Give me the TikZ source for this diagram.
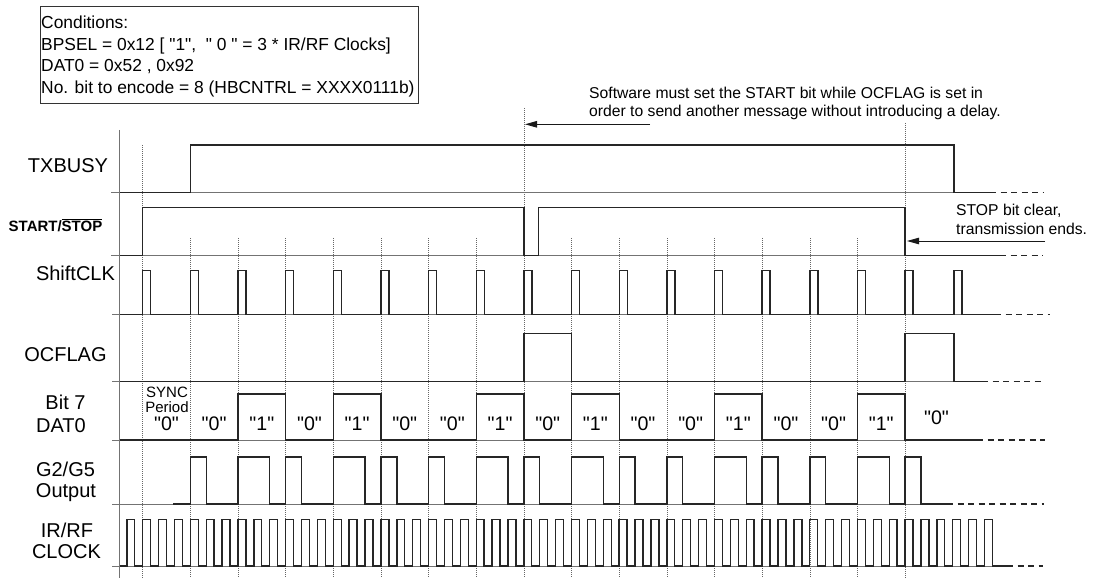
\documentclass[tikz,border=0pt]{standalone}
\usepackage{fontspec}
\setmainfont{Liberation Sans}
\newfontfamily\qfont{Liberation Sans}
\usetikzlibrary{arrows.meta}
\begin{document}
\begin{tikzpicture}[x=1pt,y=-1pt,
  sig/.style={line width=1.4pt,line join=miter,black!85},
  basel/.style={line width=0.7pt,black!55},
  gridl/.style={line width=0.6pt,black!60,dash pattern=on 1pt off 1pt},
  dsh/.style={line width=1.2pt,black!85,dash pattern=on 6pt off 4.5pt},
  arr/.style={line width=0.9pt,black!90,-{Triangle[length=12pt,width=6.5pt]}},
  lab/.style={font=\fontsize{20}{22}\selectfont,inner sep=0pt,anchor=base},
  cond/.style={font=\qfont\fontsize{17.4}{20}\selectfont,inner sep=0pt,anchor=base west},
  note/.style={font=\fontsize{15.7}{18}\selectfont,inner sep=0pt,anchor=base west},
  bitlab/.style={font=\qfont\fontsize{19.6}{21}\selectfont,inner sep=0pt},
  small/.style={font=\fontsize{15}{16}\selectfont,inner sep=0pt,anchor=base}
]
\useasboundingbox (0,0) rectangle (1095,580);

% conditions box
\draw[line width=0.8pt,black!80] (40,6.5) rectangle (418,103);
\node[cond] (c1) at (41,28.5) {Conditions:};
\node[cond] (c2) at (41,50.2) {BPSEL = 0x12 [ "1",~ " 0 " = 3 * IR/RF Clocks]};
\node[cond] (c3) at (41,71.9) {DAT0 = 0x52 , 0x92};
\node[cond] (c4) at (41,93.6) {No. bit to encode = 8 (HBCNTRL = XXXX0111b)};

% top note
\node[note] (n1) at (589,98.5) {Software must set the START bit while OCFLAG is set in};
\node[note] (n2) at (589,116.5) {order to send another message without introducing a delay.};
\coordinate (a1s) at (650,124.3);
\coordinate (a1e) at (525,124.3);
\draw[arr] (a1s) -- (a1e);

% right note
\node[note] (n3) at (956,216) {STOP bit clear,};
\node[note] (n4) at (956,234) {transmission ends.};
\coordinate (a2s) at (1045,241);
\coordinate (a2e) at (907,241);
\draw[arr] (a2s) -- (a2e);

% axis and grid
\draw[line width=0.9pt,black!55] (119,130) -- (119,578);
\draw[gridl] (142.7,145) -- (142.7,578);
\draw[gridl] (524,108) -- (524,578);
\draw[gridl] (905.1,123) -- (905.1,578);
\foreach \k in {1,...,7,9,10,...,15}
  \draw[gridl] ({142.7+47.65*\k},238) -- ({142.7+47.65*\k},578);

% baselines
\draw[basel] (111,192.3) -- (990,192.3);
\draw[basel] (111,255.7) -- (1000,255.7);
\draw[basel] (112,314.3) -- (995,314.3);
\draw[basel] (112,381.7) -- (982,381.7);
\draw[basel] (112,440) -- (977,440);
\draw[basel] (112,504) -- (947,504);
\draw[basel] (112,566) -- (1007,566);

% labels
\node[lab] (lTX) at (68,172.2) {TXBUSY};
\node[font=\fontsize{15}{16}\selectfont\bfseries,inner sep=0pt,anchor=base] (lST) at (55.5,231.3) {START/$\overline{\mbox{STOP}}$};
\node[lab] (lSC) at (75.5,280.2) {ShiftCLK};
\node[lab] (lOC) at (65.5,361.2) {OCFLAG};
\node[lab] (lB7) at (65.5,409) {Bit 7};
\node[lab] (lDA) at (61,432.5) {DAT0};
\node[lab] (lG2) at (65.5,476.7) {G2/G5};
\node[lab] (lOU) at (66,497.5) {Output};
\node[lab] (lIR) at (67,537.2) {IR/RF};
\node[lab] (lCL) at (66.5,558.7) {CLOCK};

% TXBUSY
\draw[sig] (120,192.3) -- (190.7,192.3) -- (190.7,145) -- (954,145) -- (954,192.3) -- (990,192.3);
\draw[dsh] (990,192.3) -- (1043,192.3);

% START/STOP
\draw[sig] (120,255.7) -- (142.7,255.7) -- (142.7,207.7) -- (524,207.7) -- (524,255.7) -- (538.3,255.7) -- (538.3,207.7) -- (905.1,207.7) -- (905.1,255.7) -- (1000,255.7);
\draw[dsh] (1000,255.7) -- (1043,255.7);

% ShiftCLK
\draw[sig] (120,314.3) \foreach \k in {0,...,16} { -- ({142.7+47.65*\k},314.3) -- ++(0,-43.6) -- ++(8,0) -- ++(0,43.6) } -- (954,314.3) -- ++(0,-43.6) -- ++(8,0) -- ++(0,43.6) -- (995,314.3);
\draw[dsh] (995,314.3) -- (1050,314.3);

% OCFLAG
\draw[sig] (120,381.7) -- (524,381.7) -- (524,333.3) -- (571.6,333.3) -- (571.6,381.7) -- (905.1,381.7) -- (905.1,333.3) -- (954,333.3) -- (954,381.7) -- (982,381.7);
\draw[dsh] (982,381.7) -- (1045,381.7);

% Bit 7 DAT0
\draw[sig] (120,440) \foreach \k in {2,4,7,9,12,15} { -- ({142.7+47.65*\k},440) -- ++(0,-46) -- ++(47.65,0) -- ++(0,46) } -- (977,440);
\draw[dsh] (977,440) -- (1045,440);
\node[small] (sy1) at (167,397.4) {SYNC};
\node[small] (sy2) at (167,412.7) {Period};
\node[bitlab] (b0) at (166.5,424) {"0"};
\foreach \k/\b in {1/0,2/1,3/0,4/1,5/0,6/0,7/1,8/0,9/1,10/0,11/0,12/1,13/0,14/0,15/1}
  \node[bitlab] (b\k) at ({142.7+47.65*\k+23.8},423.5) {"\b"};
\node[bitlab] (b16) at (936.5,418) {"0"};

% G2/G5 output
\draw[sig] (173,504) \foreach \k/\w in {1/1,2/2,3/1,4/2,5/1,6/1,7/2,8/1,9/2,10/1,11/1,12/2,13/1,14/1,15/2,16/1} { -- ({142.7+47.65*\k},504) -- ++(0,-47) -- ++({15.883*\w},0) -- ++(0,47) } -- (947,504);
\draw[dsh] (947,504) -- (1044,504);

% IR/RF clock
\draw[sig] (120,566) \foreach \m in {-1,...,53} { -- ({142.7+15.883*\m},566) -- ++(0,-46.7) -- ++(7.9,0) -- ++(0,46.7) } -- (1007,566);
\draw[dsh] (1007,566) -- (1043,566);
\end{tikzpicture}
\end{document}
